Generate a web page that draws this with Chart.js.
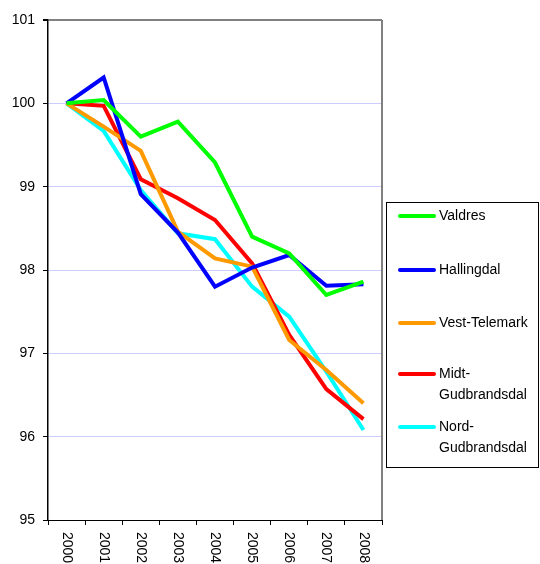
<!DOCTYPE html>
<html>
<head>
<meta charset="utf-8">
<script src="https://cdn.jsdelivr.net/npm/chart.js@4/dist/chart.umd.min.js"></script>
<style>
html,body{margin:0;padding:0;background:#fff;}
#wrap{width:540px;height:564px;position:relative;}
</style>
</head>
<body>
<div id="wrap"><canvas id="c" width="540" height="564"></canvas></div>
<script>
const years = ["2000","2001","2002","2003","2004","2005","2006","2007","2008"];
const yTicks = [95, 96, 97, 98, 99, 100, 101];
const seriesNames = ["Valdres", "Hallingdal", "Vest-Telemark", "Midt-\nGudbrandsdal", "Nord-\nGudbrandsdal"];
const seriesColors = ["#00ff00", "#0000ff", "#ff9900", "#ff0000", "#00ffff"];
const valdres = [100, 100.04, 99.60, 99.78, 99.29, 98.40, 98.20, 97.70, 97.86];
const hallingdal = [100, 100.31, 98.91, 98.45, 97.80, 98.03, 98.18, 97.81, 97.83];
const vestTelemark = [100, 99.72, 99.43, 98.46, 98.14, 98.04, 97.16, 96.80, 96.40];
const midtGudbrandsdal = [100, 99.97, 99.09, 98.86, 98.60, 98.08, 97.22, 96.57, 96.21];
const nordGudbrandsdal = [100, 99.67, 98.96, 98.44, 98.37, 97.80, 97.44, 96.78, 96.08];
const seriesValues = [valdres, hallingdal, vestTelemark, midtGudbrandsdal, nordGudbrandsdal];

const FONT = "'Liberation Sans', Arial, sans-serif";

const customPlugin = {
  id: 'custom',
  afterDraw(chart) {
    const ctx = chart.ctx;
    const xs = chart.scales.x;
    const ca = chart.chartArea;
    ctx.save();
    // right border
    ctx.strokeStyle = '#808080';
    ctx.lineWidth = 2;
    ctx.beginPath();
    ctx.moveTo(ca.right, ca.top);
    ctx.lineTo(ca.right, ca.bottom);
    ctx.stroke();
    // rotated x labels
    ctx.fillStyle = '#000';
    ctx.font = '14px ' + FONT;
    ctx.textAlign = 'left';
    ctx.textBaseline = 'middle';
    years.forEach((y, i) => {
      const x = xs.getPixelForValue(i);
      ctx.save();
      ctx.translate(x, ca.bottom + 12);
      ctx.rotate(Math.PI / 2);
      ctx.fillText(y, 0, 0);
      ctx.restore();
    });
    // legend box
    const bx = 386.5, by = 202.5, bw = 152, bh = 265;
    ctx.strokeStyle = '#000';
    ctx.lineWidth = 1;
    ctx.strokeRect(bx, by, bw, bh);
    const itemY = [216, 270, 323, 374, 427];
    chart.data.datasets.forEach((ds, i) => {
      const y = itemY[i];
      ctx.strokeStyle = ds.borderColor;
      ctx.lineWidth = 4;
      ctx.lineCap = 'round';
      ctx.beginPath();
      ctx.moveTo(400, y);
      ctx.lineTo(434, y);
      ctx.stroke();
      ctx.fillStyle = '#000';
      const lines = ds.label.split('\n');
      lines.forEach((t, k) => ctx.fillText(t, 439, y + k * 21));
    });
    ctx.restore();
  }
};

new Chart(document.getElementById('c'), {
  type: 'line',
  data: {
    labels: years,
    datasets: seriesValues.map((vals, i) => ({
      label: seriesNames[i],
      data: vals,
      borderColor: seriesColors[i],
      backgroundColor: seriesColors[i],
      borderWidth: 4,
      pointRadius: 0,
      tension: 0,
      fill: false
    }))
  },
  options: {
    responsive: false,
    animation: false,
    layout: { padding: { top: 20, right: 158, left: 0, bottom: 0 } },
    plugins: { legend: { display: false }, tooltip: { enabled: false } },
    scales: {
      x: {
        type: 'category',
        offset: true,
        grid: { offset: true, drawOnChartArea: false, tickLength: 5, tickColor: '#000', color: '#000' },
        border: { color: '#000', width: 1 },
        ticks: { color: 'rgba(0,0,0,0)', maxRotation: 0, autoSkip: false, font: { size: 14, family: FONT } },
        afterFit(s) { s.height = 44; }
      },
      y: {
        min: 95, max: 101,
        afterBuildTicks(s) { s.ticks = yTicks.map(v => ({ value: v })); },
        grid: {
          color: (c) => (c.tick && c.tick.value === 101) ? '#808080' : '#ccccff',
          lineWidth: (c) => (c.tick && c.tick.value === 101) ? 2 : 1,
          tickLength: 5,
          tickColor: '#000'
        },
        border: { color: '#000', width: 1.5 },
        ticks: { color: '#000', padding: 8, font: { size: 14, family: FONT } },
        afterFit(s) { s.width = 48; }
      }
    }
  },
  plugins: [customPlugin]
});
</script>
</body>
</html>
